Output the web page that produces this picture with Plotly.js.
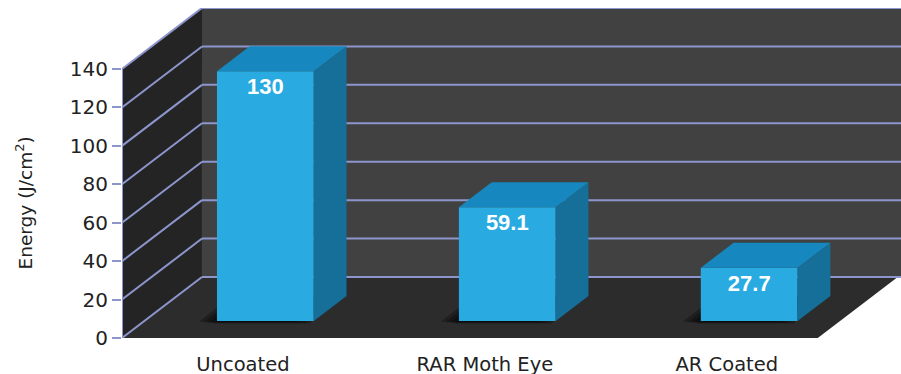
<!DOCTYPE html>
<html>
<head>
<meta charset="utf-8">
<script src="https://cdn.plot.ly/plotly-3.0.1.min.js"></script>
<style>
html,body{margin:0;padding:0;background:#fff;}
#chart{width:901px;height:374px;}
</style>
</head>
<body>
<div id="chart"></div>
<script>
// ---- data ----
var categories = ["Uncoated", "RAR Moth Eye", "AR Coated"];
var energy = [130, 59.1, 27.7];
var yTicks = [0, 20, 40, 60, 80, 100, 120, 140];
var yTitle = "Energy (J/cm<sup>2</sup>)";

// ---- style / geometry constants (axis units) ----
var X0 = -0.5, XEND = 2.72;        // x range
var YTOP = 171.75;                 // y range top
var DX = 0.3306, DY = 31.75;       // full depth of the box
var FX = 0.28 * DX, FY = 0.28 * DY;// bar front plane
var BDX = 0.41 * DX, BDY = 0.41 * DY; // bar depth
var BW = 0.40;                     // bar width
var XFLOOR = 2.376;                // floor right front corner
var GRID = "#8c96cc";
var C_FRONT = "#29abe2", C_SIDE = "#156f99", C_TOP = "#1688bf";
var FONT = "DejaVu Sans, Verdana, sans-serif";

function poly(pts){
  return "M" + pts.map(function(p){return p[0] + "," + p[1];}).join(" L") + " Z";
}

var yMax = yTicks[yTicks.length-1];
var shapes = [];
// left wall
shapes.push({type:"path", xref:"x", yref:"y", layer:"below", line:{width:0},
  fillcolor:"#242424", path: poly([[X0,0],[X0+DX,DY],[X0+DX,yMax+DY],[X0,yMax]])});
// back wall
shapes.push({type:"path", xref:"x", yref:"y", layer:"below", line:{width:0},
  fillcolor:"#414141", path: poly([[X0+DX,DY],[XEND+0.1,DY],[XEND+0.1,YTOP],[X0+DX,YTOP]])});
// floor
shapes.push({type:"path", xref:"x", yref:"y", layer:"below", line:{width:0},
  fillcolor:"#2c2c2c", path: poly([[X0,0],[XFLOOR,0],[XFLOOR+DX,DY],[X0+DX,DY]])});
// gridlines
yTicks.forEach(function(v){
  shapes.push({type:"line", xref:"x", yref:"y", layer:"below", line:{color:GRID, width:2},
    x0:X0, y0:v, x1:X0+DX, y1:v+DY});
  shapes.push({type:"line", xref:"x", yref:"y", layer:"below", line:{color:GRID, width:2},
    x0:X0+DX, y0:v+DY, x1:XEND+0.1, y1:v+DY});
});
// front axis line
shapes.push({type:"line", xref:"x", yref:"y", layer:"below", line:{color:GRID, width:2},
  x0:X0, y0:0, x1:X0, y1:yMax});

// bar shadows (soft, layered), sides and tops
energy.forEach(function(v, i){
  var xl = i + FX - BW/2, xr = i + FX + BW/2, yb = FY, yt = FY + v;
  [0.075, 0.055, 0.035, 0.018].forEach(function(s, k){
    var d = 0.4 + k * 0.3;
    shapes.push({type:"path", xref:"x", yref:"y", layer:"below", line:{width:0},
      fillcolor:"rgba(0,0,0,0.28)",
      path: poly([[xl-s,yb-d],[xr-s,yb-d],[xr-s+BDX,yb+BDY],[xl-s+BDX,yb+BDY]])});
  });
  shapes.push({type:"path", xref:"x", yref:"y", layer:"above", line:{width:0},
    fillcolor:C_SIDE, path: poly([[xr,yb],[xr+BDX,yb+BDY],[xr+BDX,yt+BDY],[xr,yt]])});
  shapes.push({type:"path", xref:"x", yref:"y", layer:"above", line:{width:0},
    fillcolor:C_TOP, path: poly([[xl,yt],[xr,yt],[xr+BDX,yt+BDY],[xl+BDX,yt+BDY]])});
});

var trace = {
  type:"bar",
  x: categories.map(function(c, i){ return i + FX; }),
  y: energy,
  base: energy.map(function(){ return FY; }),
  width: BW,
  marker:{color:C_FRONT, line:{width:0}},
  text: energy.map(function(v){ return String(v); }),
  textposition:"inside",
  insidetextanchor:"end",
  textangle:0,
  constraintext:"none",
  textfont:{family:"Liberation Sans, Arial, sans-serif", size:22, color:"#ffffff", weight:"bold"},
  hoverinfo:"skip",
  showlegend:false
};

var layout = {
  width:901, height:374,
  margin:{l:122, r:0, t:8, b:36},
  paper_bgcolor:"#ffffff",
  plot_bgcolor:"#ffffff",
  showlegend:false,
  xaxis:{
    range:[X0, XEND],
    tickmode:"array",
    tickvals: categories.map(function(c, i){ return i; }),
    ticktext: categories,
    showgrid:false, zeroline:false, showline:false,
    ticks:"", ticklabelstandoff:12,
    tickfont:{family:FONT, size:19.5, color:"#222222"},
    fixedrange:true
  },
  yaxis:{
    range:[0, YTOP],
    tickmode:"array",
    tickvals: yTicks,
    showgrid:false, zeroline:false, showline:false,
    ticks:"outside", ticklen:9, tickwidth:2, tickcolor:GRID,
    tickfont:{family:FONT, size:20, color:"#222222"},
    fixedrange:true
  },
  annotations:[{
    text: yTitle, textangle:-90, showarrow:false,
    xref:"paper", x:-0.1258, xanchor:"center",
    yref:"y", y: yMax/2, yanchor:"middle",
    font:{family:FONT, size:18.5, color:"#222222"}
  }],
  shapes: shapes
};

Plotly.newPlot("chart", [trace], layout, {displayModeBar:false, staticPlot:true});
</script>
</body>
</html>
